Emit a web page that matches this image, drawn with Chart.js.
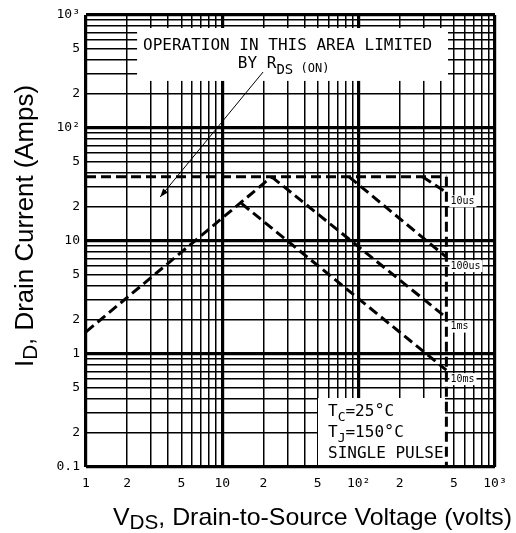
<!DOCTYPE html>
<html>
<head>
<meta charset="utf-8">
<script src="https://cdn.jsdelivr.net/npm/chart.js@4"></script>
<style>
html, body { margin: 0; padding: 0; background: #fff; }
canvas { display: block; }
</style>
</head>
<body>
<canvas id="soaChart" width="516" height="533"></canvas>
<script>
// safe operating area limits, volts vs amps
const rdsVolts = [1, 23];
const rdsAmps = [1.57, 37];
const peakVolts = [1, 440];
const peakAmps = [37, 37];
const us10Volts = [294, 440];
const us10Amps = [37, 27];
const us100Volts = [85, 440];
const us100Amps = [37, 7.2];
const ms1Volts = [23, 440];
const ms1Amps = [37, 2.1];
const ms10Volts = [13.8, 440];
const ms10Amps = [21.5, 0.72];
const bvVolts = [440, 440];
const bvAmps = [37, 0.1];
const arrowVolts = [19.9, 3.5];
const arrowAmps = [313, 24.5];

const pulseLabels = ['10us', '100us', '1ms', '10ms'];
const pulseEndAmps = [27, 7.2, 2.1, 0.72];

const xTickValues = [1, 2, 5, 10, 20, 50, 100, 200, 500, 1000];
const xTickText = ['1', '2', '5', '10', '2', '5', '10²', '2', '5', '10³'];
const yTickValues = [0.1, 0.2, 0.5, 1, 2, 5, 10, 20, 50, 100, 200, 500, 1000];
const yTickText = ['0.1', '2', '5', '1', '2', '5', '10', '2', '5', '10²', '2', '5', '10³'];

const MONO = '"DejaVu Sans Mono", monospace';
const SANS = '"Liberation Sans", Arial, sans-serif';

// grid lines at 1..9 of every decade
function logGrid(decades) {
    let out = [];
    decades.forEach(d => {
        for (let m = 1; m <= 9; m++) out.push(+(d * m).toPrecision(3));
    });
    out.push(+(decades[decades.length - 1] * 10).toPrecision(3));
    return out;
}
const xGrid = logGrid([1, 10, 100]);
const yGrid = logGrid([0.1, 1, 10, 100]);

function isDecade(v) {
    const l = Math.log10(v);
    return Math.abs(l - Math.round(l)) < 1e-6;
}

function labelFor(values, texts, v) {
    const i = values.findIndex(t => Math.abs(t - v) < t * 1e-6);
    return i < 0 ? '' : texts[i];
}

function pts(xs, ys) {
    return xs.map((x, i) => ({x: x, y: ys[i]}));
}

function dashed(xs, ys) {
    return {
        data: pts(xs, ys),
        borderColor: '#000',
        borderWidth: 3,
        borderDash: [10, 5],
        pointRadius: 0,
        showLine: true,
        fill: false,
        tension: 0
    };
}

// draws a row of text pieces (sub/superscripts), returns end x
function drawRuns(ctx, runs, x, y) {
    runs.forEach(r => {
        ctx.font = r.size + 'px ' + (r.family || MONO);
        ctx.fillText(r.t, x, y + (r.dy || 0));
        x += ctx.measureText(r.t).width;
    });
    return x;
}

function runsWidth(ctx, runs) {
    let w = 0;
    runs.forEach(r => {
        ctx.font = r.size + 'px ' + (r.family || MONO);
        w += ctx.measureText(r.t).width;
    });
    return w;
}

const notes = {
    id: 'notes',
    beforeDatasetsDraw(chart) {
        const {ctx, scales: {x, y}} = chart;
        ctx.save();
        ctx.fillStyle = '#fff';
        // box behind the R_DS(on) note
        let x0 = x.getPixelForValue(2.37), x1 = x.getPixelForValue(452);
        let y0 = y.getPixelForValue(767), y1 = y.getPixelForValue(261);
        ctx.fillRect(x0, y0, x1 - x0, y1 - y0);
        // box behind the test conditions
        x0 = x.getPixelForValue(50.3); x1 = x.getPixelForValue(430);
        y0 = y.getPixelForValue(0.408); y1 = chart.chartArea.bottom - 2;
        ctx.fillRect(x0, y0, x1 - x0, y1 - y0);
        // small boxes behind the pulse width labels
        ctx.font = '10px ' + MONO;
        pulseLabels.forEach((t, i) => {
            const px = x.getPixelForValue(bvVolts[0]) + 3;
            const py = y.getPixelForValue(pulseEndAmps[i]) + 9;
            ctx.fillRect(px, py - 6, ctx.measureText(t).width + 3, 12);
        });
        ctx.restore();
    },
    afterDatasetsDraw(chart) {
        const {ctx, scales: {x, y}} = chart;
        ctx.save();
        ctx.fillStyle = '#000';
        ctx.textBaseline = 'alphabetic';

        // arrow head at the end of the pointer line
        const ax = x.getPixelForValue(arrowVolts[1]), ay = y.getPixelForValue(arrowAmps[1]);
        const bx = x.getPixelForValue(arrowVolts[0]), by = y.getPixelForValue(arrowAmps[0]);
        const ang = Math.atan2(ay - by, ax - bx);
        ctx.beginPath();
        ctx.moveTo(ax, ay);
        ctx.lineTo(ax - 9 * Math.cos(ang - 0.35), ay - 9 * Math.sin(ang - 0.35));
        ctx.lineTo(ax - 9 * Math.cos(ang + 0.35), ay - 9 * Math.sin(ang + 0.35));
        ctx.closePath();
        ctx.fill();

        // R_DS(on) note
        ctx.font = '16px ' + MONO;
        ctx.fillText('OPERATION IN THIS AREA LIMITED', x.getPixelForValue(2.62), y.getPixelForValue(490));
        drawRuns(ctx, [
            {t: 'BY ', size: 16},
            {t: 'R', size: 16},
            {t: 'DS', size: 14, dy: 6},
            {t: ' (ON)', size: 12, dy: 4}
        ], x.getPixelForValue(13.0), y.getPixelForValue(340));

        // test conditions
        const cx = x.getPixelForValue(59.6);
        drawRuns(ctx, [
            {t: 'T', size: 16}, {t: 'C', size: 13, dy: 5},
            {t: '=25', size: 16}, {t: '°', size: 17}, {t: 'C', size: 16}
        ], cx, y.getPixelForValue(0.283));
        drawRuns(ctx, [
            {t: 'T', size: 16}, {t: 'J', size: 13, dy: 5},
            {t: '=150', size: 16}, {t: '°', size: 17}, {t: 'C', size: 16}
        ], cx, y.getPixelForValue(0.184));
        ctx.font = '16px ' + MONO;
        ctx.fillText('SINGLE PULSE', cx, y.getPixelForValue(0.120));

        // pulse width labels
        ctx.font = '10px ' + MONO;
        ctx.textBaseline = 'middle';
        pulseLabels.forEach((t, i) => {
            ctx.fillText(t, x.getPixelForValue(bvVolts[0]) + 4, y.getPixelForValue(pulseEndAmps[i]) + 9);
        });
        ctx.restore();
    },
    afterDraw(chart) {
        const ctx = chart.ctx;
        ctx.save();
        ctx.fillStyle = '#000';
        ctx.textBaseline = 'alphabetic';

        // x axis title, stretched to the width it has on the datasheet
        const xRuns = [
            {t: 'V', size: 24, family: SANS},
            {t: 'DS', size: 20, dy: 4, family: SANS},
            {t: ', Drain-to-Source Voltage (volts)', size: 24, family: SANS}
        ];
        let w = runsWidth(ctx, xRuns);
        ctx.save();
        ctx.translate(113, 525);
        ctx.scale(399 / w, 1);
        drawRuns(ctx, xRuns, 0, 0);
        ctx.restore();

        // y axis title
        const yRuns = [
            {t: 'I', size: 25, family: SANS},
            {t: 'D', size: 20, dy: 4, family: SANS},
            {t: ', Drain Current (Amps)', size: 25, family: SANS}
        ];
        w = runsWidth(ctx, yRuns);
        ctx.save();
        ctx.translate(33, 367);
        ctx.rotate(-Math.PI / 2);
        ctx.scale(282 / w, 1);
        drawRuns(ctx, yRuns, 0, 0);
        ctx.restore();
        ctx.restore();
    }
};

const ctx = document.getElementById('soaChart').getContext('2d');
const chart = new Chart(ctx, {
    type: 'scatter',
    data: {
        datasets: [
            dashed(rdsVolts, rdsAmps),
            dashed(peakVolts, peakAmps),
            dashed(us10Volts, us10Amps),
            dashed(us100Volts, us100Amps),
            dashed(ms1Volts, ms1Amps),
            dashed(ms10Volts, ms10Amps),
            dashed(bvVolts, bvAmps),
            {
                data: pts(arrowVolts, arrowAmps),
                borderColor: '#000',
                borderWidth: 1,
                pointRadius: 0,
                showLine: true,
                fill: false
            }
        ]
    },
    options: {
        responsive: false,
        animation: false,
        events: [],
        layout: { padding: { left: 0, top: 15, right: 21, bottom: 0 } },
        plugins: {
            legend: { display: false },
            tooltip: { enabled: false }
        },
        scales: {
            x: {
                type: 'logarithmic',
                min: 1,
                max: 1000,
                afterBuildTicks: s => { s.ticks = xGrid.map(v => ({value: v})); },
                afterFit: s => { s.height = 66; },
                border: { display: false },
                grid: {
                    color: '#000',
                    drawTicks: false,
                    lineWidth: c => (c.tick && isDecade(c.tick.value)) ? 3.2 : 1.5
                },
                ticks: {
                    autoSkip: false,
                    maxRotation: 0,
                    padding: 9,
                    color: '#000',
                    font: { family: MONO, size: 13 },
                    callback: v => labelFor(xTickValues, xTickText, v)
                }
            },
            y: {
                type: 'logarithmic',
                min: 0.1,
                max: 1000,
                afterBuildTicks: s => { s.ticks = yGrid.map(v => ({value: v})); },
                afterFit: s => { s.width = 86; },
                border: { display: false },
                grid: {
                    color: '#000',
                    drawTicks: false,
                    lineWidth: c => (c.tick && isDecade(c.tick.value)) ? 3.2 : 1.5
                },
                ticks: {
                    autoSkip: false,
                    padding: 6,
                    color: '#000',
                    font: { family: MONO, size: 13 },
                    callback: v => labelFor(yTickValues, yTickText, v)
                }
            }
        }
    },
    plugins: [notes]
});
</script>
</body>
</html>
